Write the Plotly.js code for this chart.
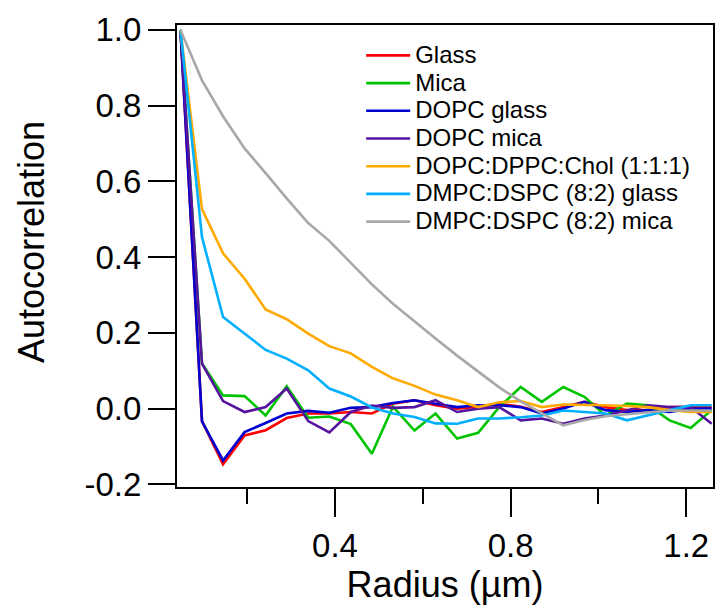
<!DOCTYPE html>
<html><head><meta charset="utf-8">
<script src="https://cdn.plot.ly/plotly-3.0.1.min.js"></script>
<style>html,body{margin:0;padding:0;background:#fff}</style>
</head><body>
<div id="chart" style="width:715px;height:610px"></div>
<script>
const radius = [0.048,0.097,0.145,0.194,0.242,0.290,0.339,0.387,0.436,0.484,0.532,0.581,0.629,0.678,0.726,0.774,0.823,0.871,0.920,0.968,1.016,1.065,1.113,1.162,1.210,1.258];

const glass      = [1.0,-0.033,-0.147,-0.071,-0.057,-0.025,-0.013,-0.013,-0.009,-0.013,0.013,0.022,0.009,0.000,0.005,0.013,0.005,-0.009,0.004,0.018,0.004,-0.004,-0.004,0.004,0.004,0.004];
const mica       = [1.0,0.119,0.035,0.033,-0.018,0.059,-0.024,-0.021,-0.041,-0.119,0.005,-0.058,-0.013,-0.079,-0.064,0.004,0.057,0.018,0.057,0.031,-0.018,0.013,0.009,-0.031,-0.051,-0.004];
const dopcGlass  = [1.0,-0.034,-0.137,-0.062,-0.038,-0.013,-0.006,-0.011,0.002,0.004,0.015,0.022,0.013,0.004,0.009,0.009,0.004,-0.013,0.000,0.018,-0.004,-0.009,-0.004,-0.009,0.000,0.000];
const dopcMica   = [1.0,0.119,0.020,-0.009,0.004,0.053,-0.033,-0.063,-0.009,0.008,0.002,0.004,0.022,-0.009,0.000,0.004,-0.031,-0.026,-0.040,-0.026,-0.018,-0.004,0.009,0.004,0.004,-0.040];
const dopcDppcChol = [1.0,0.527,0.410,0.343,0.262,0.236,0.198,0.165,0.146,0.110,0.080,0.060,0.037,0.022,0.004,0.017,0.020,0.004,0.011,0.009,0.009,0.007,0.004,-0.004,-0.009,-0.009];
const dmpcGlass  = [1.0,0.453,0.242,0.198,0.155,0.132,0.101,0.053,0.032,0.003,-0.013,-0.022,-0.039,-0.040,-0.026,-0.026,-0.023,-0.018,-0.005,-0.009,-0.013,-0.031,-0.018,-0.005,0.009,0.009];
const dmpcMica   = [1.0,0.867,0.772,0.687,0.622,0.555,0.490,0.443,0.385,0.328,0.277,0.230,0.185,0.140,0.099,0.056,0.019,-0.012,-0.044,-0.030,-0.020,-0.015,-0.010,-0.005,-0.005,-0.005];

const seriesNames = ["Glass","Mica","DOPC glass","DOPC mica","DOPC:DPPC:Chol (1:1:1)","DMPC:DSPC (8:2) glass","DMPC:DSPC (8:2) mica"];
const seriesColors = ["#ff0000","#00c400","#0000d2","#55139e","#ffaa00","#00b0ff","#a8a8a8"];
const seriesValues = [glass, mica, dopcGlass, dopcMica, dopcDppcChol, dmpcGlass, dmpcMica];

const yTickVals = [-0.2,0.0,0.2,0.4,0.6,0.8,1.0];
const yTickText = ["-0.2","0.0","0.2","0.4","0.6","0.8","1.0"];
const xTickVals = [0.4,0.8,1.2];
const xTickText = ["0.4","0.8","1.2"];
const xTitle = 'Radius (µm)';
const yTitle = 'Autocorrelation';

const traces = seriesValues.map((vals, i) => ({
  x: radius, y: vals, type: 'scatter', mode: 'lines',
  name: '<span style="font-size:24px">' + seriesNames[i] + '</span>',
  line: {color: seriesColors[i], width: 2.6}
}));

const font = 'Liberation Sans, Arial, sans-serif';
const layout = {
  width: 715, height: 610,
  margin: {l: 177, r: 2, t: 25, b: 123, pad: 0},
  paper_bgcolor: '#fff', plot_bgcolor: '#fff',
  font: {family: font, color: '#000'},
  showlegend: true,
  legend: {x: 0.3436, y: 0.975, xanchor: 'left', yanchor: 'top', bgcolor: 'rgba(0,0,0,0)',
           font: {size: 19, family: font, color: '#000'}, itemwidth: 44, borderwidth: 0},
  xaxis: {
    range: [0.0401, 1.261], showgrid: false, zeroline: false,
    showline: true, mirror: true, linecolor: '#000', linewidth: 2,
    ticks: 'outside', ticklen: 28, tickwidth: 2, tickcolor: '#000',
    tickvals: xTickVals, ticktext: xTickText,
    tickfont: {size: 33, family: font, color: '#000'},
    minor: {tickvals: [0.2,0.6,1.0], ticks: 'outside', ticklen: 15, tickwidth: 2, tickcolor: '#000', showgrid: false},
    title: {text: xTitle, font: {size: 36, family: font, color: '#000'}, standoff: 8}
  },
  yaxis: {
    range: [-0.207, 1.013], showgrid: false, zeroline: false,
    showline: true, mirror: true, linecolor: '#000', linewidth: 2,
    ticks: 'outside', ticklen: 27, tickwidth: 2, tickcolor: '#000',
    tickvals: yTickVals, ticktext: yTickText,
    tickfont: {size: 33, family: font, color: '#000'}
  },
  annotations: [{
    text: yTitle, xref: 'paper', yref: 'paper', x: (31 - 177) / 536, y: (487 - 242) / 462,
    xanchor: 'center', yanchor: 'middle', textangle: -90, showarrow: false,
    font: {size: 36, family: font, color: '#000'}
  }]
};

Plotly.newPlot('chart', traces, layout, {displayModeBar: false, staticPlot: true});
</script>
</body></html>
